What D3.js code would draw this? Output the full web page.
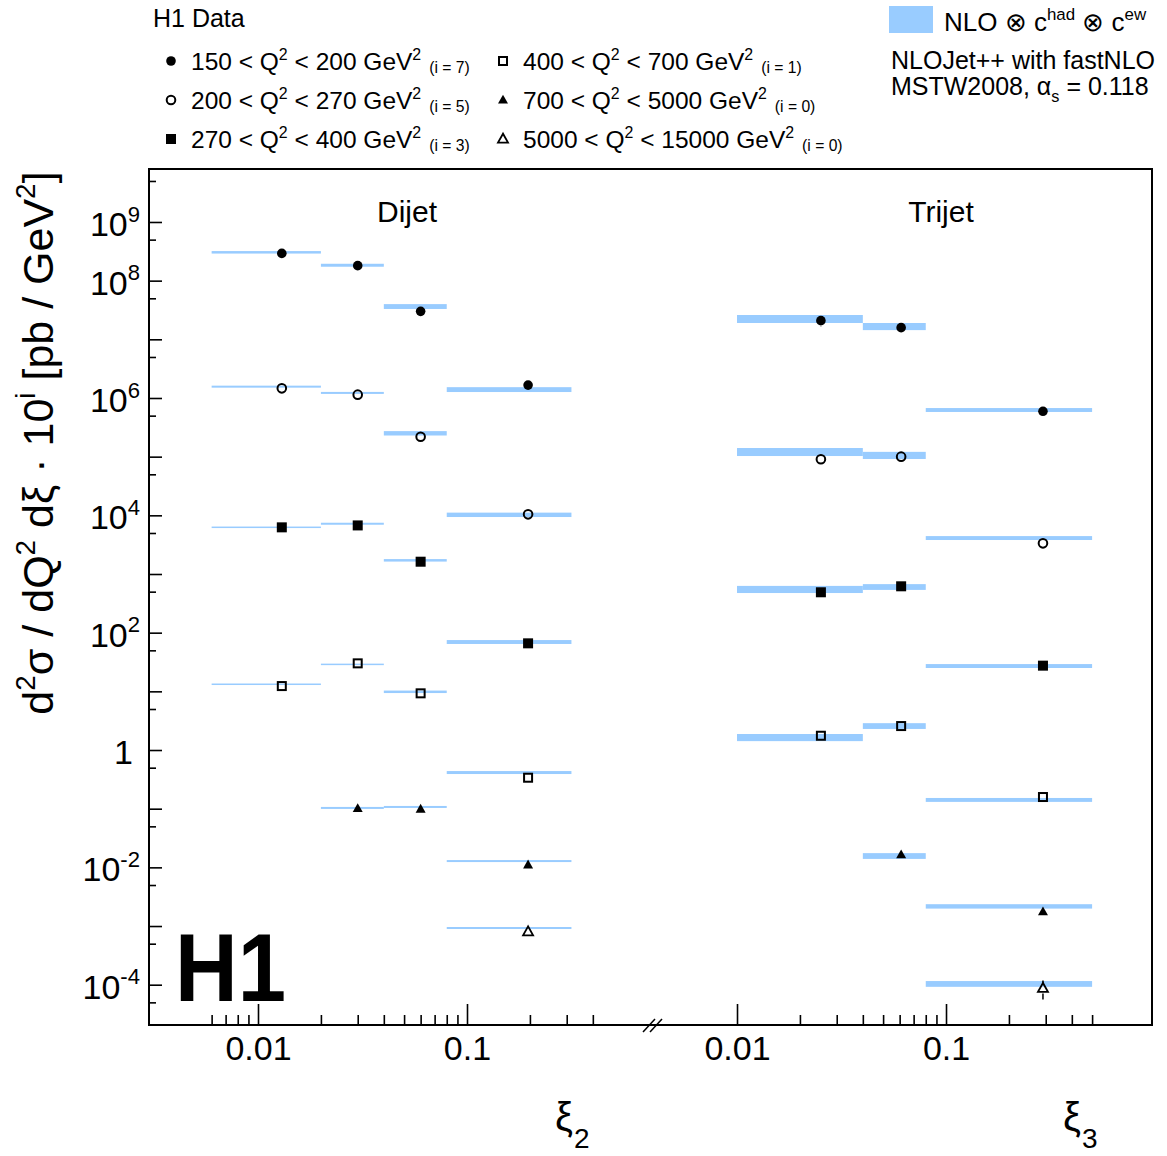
<!DOCTYPE html>
<html>
<head>
<meta charset="utf-8">
<script src="https://cdn.jsdelivr.net/npm/d3@7"></script>
<style>
  html, body { margin: 0; padding: 0; background: #fff; }
  svg { display: block; }
</style>
</head>
<body>
<div id="chart"></div>
<script>
// ---------------- data ----------------
const q2Labels = [
  ["150", "200"], ["200", "270"], ["270", "400"],
  ["400", "700"], ["700", "5000"], ["5000", "15000"]
];
const scaleExp = [7, 5, 3, 1, 0, 0];           // multiply by 10^i
const markerTypes = ["fc", "oc", "fs", "os", "ft", "ot"];

// Dijet: xi_2 bins
const diBinEdges = [0.006, 0.02, 0.04, 0.08, 0.316];
const diXi = [0.013, 0.030, 0.060, 0.196];
const diData = [
  [29.2, 18.0, 3.00, 0.166],
  [14.6, 11.4, 2.19, 0.104],
  [6.24, 6.73, 1.62, 0.0658],
  [1.23, 3.00, 0.925, 0.0337],
  [null, 0.101, 0.0986, 0.0110],
  [null, null, null, 8.0e-4]
];
const diDataErr = [   // relative, percent
  [6, 6, 8, 8],
  [6, 6, 8, 10],
  [6, 6, 8, 10],
  [8, 8, 10, 12],
  [null, 10, 10, 14],
  [null, null, null, 18]
];
const diTheory = [
  [30.4, 18.3, 3.62, 0.139],
  [15.6, 12.2, 2.50, 0.102],
  [6.25, 7.19, 1.71, 0.0693],
  [1.32, 2.88, 0.982, 0.0413],
  [null, 0.103, 0.107, 0.0128],
  [null, null, null, 9.25e-4]
];
const diTheoryUnc = [ // relative, percent
  [5, 6, 10, 10],
  [4, 4, 9, 9],
  [3, 4, 5, 8],
  [3, 3, 5, 6],
  [null, 4, 4, 4],
  [null, null, null, 4]
];

// Trijet: xi_3 bins
const triBinEdges = [0.01, 0.04, 0.08, 0.5];
const triXi = [0.0252, 0.061, 0.291];
const triData = [
  [2.08, 1.58, 0.0593],
  [0.902, 1.00, 0.0333],
  [0.488, 0.617, 0.0274],
  [0.175, 0.256, 0.0158],
  [null, 0.0164, 0.00175],
  [null, null, 8.7e-5]
];
const triDataErr = [
  [20, 10, 8],
  [12, 10, 10],
  [10, 10, 10],
  [12, 10, 12],
  [null, 12, 15],
  [null, null, 36]
];
const triTheory = [
  [2.22, 1.65, 0.0624],
  [1.20, 1.05, 0.0410],
  [0.545, 0.600, 0.0270],
  [0.163, 0.256, 0.0141],
  [null, 0.0156, 0.00216],
  [null, null, 1.03e-4]
];
const triTheoryUnc = [
  [17, 15, 8],
  [17, 15, 8],
  [15, 12, 8],
  [15, 12, 8],
  [null, 12, 9],
  [null, null, 12]
];

// axis ticks
const diMinorTicks = [0.006, 0.007, 0.008, 0.009, 0.02, 0.03, 0.04, 0.05, 0.06, 0.07, 0.08, 0.09, 0.2, 0.3, 0.4];
const diMajorTicks = [0.01, 0.1];
const triMinorTicks = [0.02, 0.03, 0.04, 0.05, 0.06, 0.07, 0.08, 0.09, 0.2, 0.3, 0.4, 0.5];
const triMajorTicks = [0.01, 0.1];
const xTickLabels = ["0.01", "0.1"];
const yMajorExp = d3.range(-4, 10);                  // 10^-4 ... 10^9
const yMinorTicks = d3.range(-5, 10).map(e => 5 * Math.pow(10, e));
const yLabelExp = [9, 8, 6, 4, 2, 0, -2, -4];

// ---------------- layout ----------------
const W = 1167, H = 1156;
const FONT = "'Liberation Sans', Arial, Helvetica, sans-serif";
const BAND = "#99ccff";
const frame = { left: 149, right: 1152, top: 169, bottom: 1025 };
const breakX = 656;

const svg = d3.select("#chart").append("svg")
  .attr("width", W).attr("height", H)
  .style("font-family", FONT);
svg.append("rect").attr("width", W).attr("height", H).attr("fill", "#fff");

const y = d3.scaleLog()
  .domain([Math.pow(10, -4.687), Math.pow(10, 9.903)])
  .range([frame.bottom, frame.top]);
const xDi = d3.scaleLog()
  .domain([Math.pow(10, -2.5215), Math.pow(10, -0.0957)])
  .range([frame.left, breakX]);
const xTri = d3.scaleLog()
  .domain([Math.pow(10, -2.3876), Math.pow(10, -0.0144)])
  .range([breakX, frame.right]);

// rich text helper
function rich(sel, parts, fs) {
  let shift = 0;
  parts.forEach(p => {
    const ts = sel.append("tspan").text(p.t);
    let target = 0, size = fs;
    if (p.sup) { target = -fs * 0.42; size = fs * 0.65; }
    else if (p.sub) { target = fs * 0.28; size = fs * 0.65; }
    else if (p.small) { target = fs * 0.12; size = fs * 0.64; }
    ts.attr("font-size", size);
    if (target !== shift) { ts.attr("dy", target - shift); shift = target; }
    if (p.dx) ts.attr("dx", p.dx);
  });
  return sel;
}

// markers
function drawMarker(g, type, cx, cy) {
  const sw = 2;
  if (type === "fc") g.append("circle").attr("cx", cx).attr("cy", cy).attr("r", 4.8).attr("fill", "#000");
  else if (type === "oc") g.append("circle").attr("cx", cx).attr("cy", cy).attr("r", 4.3)
    .attr("fill", "none").attr("stroke", "#000").attr("stroke-width", sw);
  else if (type === "fs") g.append("rect").attr("x", cx - 5).attr("y", cy - 5).attr("width", 10).attr("height", 10).attr("fill", "#000");
  else if (type === "os") g.append("rect").attr("x", cx - 4).attr("y", cy - 4).attr("width", 8).attr("height", 8)
    .attr("fill", "none").attr("stroke", "#000").attr("stroke-width", sw);
  else {
    const pts = [[cx, cy - 5.3], [cx - 5, cy + 3.6], [cx + 5, cy + 3.6]];
    const p = g.append("path").attr("d", "M" + pts.map(d => d.join(",")).join("L") + "Z");
    if (type === "ft") p.attr("fill", "#000");
    else p.attr("fill", "none").attr("stroke", "#000").attr("stroke-width", 1.8).attr("stroke-linejoin", "miter");
  }
}

// ---------------- plot content ----------------
const plot = svg.append("g");

function drawPanel(x, edges, xi, data, err, theory, unc) {
  const bands = plot.append("g");
  const pts = plot.append("g");
  theory.forEach((row, s) => {
    const f = Math.pow(10, scaleExp[s]);
    row.forEach((t, b) => {
      if (t == null) return;
      const u = 1 + unc[s][b] / 100;
      let y1 = y(t * f * u), y2 = y(t * f / u);
      let h = Math.max(y2 - y1, 1.4);
      const yc = (y1 + y2) / 2;
      bands.append("rect")
        .attr("x", x(edges[b])).attr("width", x(edges[b + 1]) - x(edges[b]))
        .attr("y", yc - h / 2).attr("height", h)
        .attr("fill", BAND);
    });
  });
  data.forEach((row, s) => {
    const f = Math.pow(10, scaleExp[s]);
    row.forEach((v, b) => {
      if (v == null) return;
      const cx = x(xi[b]), cy = y(v * f);
      const e = err[s][b] / 100;
      const yHi = y(v * f * (1 + e)), yLo = y(v * f * (1 - e));
      const hs = 5.3;
      if (yHi < cy - hs) pts.append("line").attr("x1", cx).attr("x2", cx).attr("y1", yHi).attr("y2", cy - hs)
        .attr("stroke", "#000").attr("stroke-width", 1.5);
      if (yLo > cy + hs) pts.append("line").attr("x1", cx).attr("x2", cx).attr("y1", cy + hs).attr("y2", yLo)
        .attr("stroke", "#000").attr("stroke-width", 1.5);
      drawMarker(pts, markerTypes[s], cx, cy);
    });
  });
}
drawPanel(xDi, diBinEdges, diXi, diData, diDataErr, diTheory, diTheoryUnc);
drawPanel(xTri, triBinEdges, triXi, triData, triDataErr, triTheory, triTheoryUnc);

// ---------------- axes ----------------
const axG = svg.append("g");
function xAxes(x, minors, majors) {
  axG.append("g").attr("transform", `translate(0,${frame.bottom})`)
    .call(d3.axisBottom(x).tickValues(minors).tickSizeInner(-10).tickSizeOuter(0).tickFormat(() => ""))
    .call(g => g.select(".domain").remove());
  axG.append("g").attr("transform", `translate(0,${frame.bottom})`)
    .call(d3.axisBottom(x).tickValues(majors).tickSizeInner(-21).tickSizeOuter(0).tickPadding(11)
      .tickFormat((d, i) => xTickLabels[i]))
    .call(g => g.select(".domain").remove())
    .call(g => g.selectAll("text").attr("font-size", 34).attr("font-family", FONT).attr("fill", "#000"));
}
xAxes(xDi, diMinorTicks, diMajorTicks);
xAxes(xTri, triMinorTicks, triMajorTicks);

axG.append("g").attr("transform", `translate(${frame.left},0)`)
  .call(d3.axisLeft(y).tickValues(yMinorTicks.filter(v => v >= y.domain()[0] && v <= y.domain()[1]))
    .tickSizeInner(-7).tickSizeOuter(0).tickFormat(() => ""))
  .call(g => g.select(".domain").remove());
axG.append("g").attr("transform", `translate(${frame.left},0)`)
  .call(d3.axisLeft(y).tickValues(yMajorExp.map(e => Math.pow(10, e)))
    .tickSizeInner(-13).tickSizeOuter(0).tickFormat(() => ""))
  .call(g => g.select(".domain").remove());
axG.selectAll(".tick line").attr("stroke", "#000").attr("stroke-width", 1.6);

// y tick labels
yLabelExp.forEach(e => {
  const t = svg.append("text").attr("text-anchor", "end").attr("fill", "#000")
    .attr("x", e === 0 ? 133 : 140).attr("y", y(Math.pow(10, e)) + 14).attr("font-size", 34);
  if (e === 0) rich(t, [{ t: "1" }], 34);
  else rich(t, [{ t: "10" }, { t: String(e), sup: true }], 34);
});

// frame
svg.append("rect")
  .attr("x", frame.left).attr("y", frame.top)
  .attr("width", frame.right - frame.left).attr("height", frame.bottom - frame.top)
  .attr("fill", "none").attr("stroke", "#000").attr("stroke-width", 2);

// axis break
[0, 7].forEach(dx => {
  svg.append("line")
    .attr("x1", 643 + dx).attr("y1", 1032).attr("x2", 655 + dx).attr("y2", 1019)
    .attr("stroke", "#000").attr("stroke-width", 1.5);
});

// y title
const yt = svg.append("text")
  .attr("transform", "translate(53,443) rotate(-90)")
  .attr("text-anchor", "middle").attr("font-size", 43).attr("fill", "#000");
rich(yt, [
  { t: "d" }, { t: "2", sup: true }, { t: "σ / dQ" }, { t: "2", sup: true },
  { t: " dξ   · 10" }, { t: "i", sup: true }, { t: " [pb / GeV" }, { t: "2", sup: true }, { t: "]" }
], 43);

// x titles
function xiTitle(xpos, sub) {
  const t = svg.append("text").attr("x", xpos).attr("y", 1131).attr("font-size", 40).attr("fill", "#000");
  rich(t, [{ t: "ξ" }, { t: sub, sub: true, dx: 1 }], 40);
  t.selectAll("tspan").filter((d, i) => i === 1).attr("font-size", 28).attr("dy", 17);
}
xiTitle(555, "2");
xiTitle(1063, "3");

// panel labels
svg.append("text").attr("x", 407).attr("y", 222).attr("text-anchor", "middle")
  .attr("font-size", 30).attr("fill", "#000").text("Dijet");
svg.append("text").attr("x", 941).attr("y", 222).attr("text-anchor", "middle")
  .attr("font-size", 30).attr("fill", "#000").text("Trijet");

// H1 logo
svg.append("text").attr("x", 175).attr("y", 1001)
  .attr("font-size", 96).attr("font-weight", "bold").attr("fill", "#000")
  .attr("textLength", 111).attr("lengthAdjust", "spacingAndGlyphs").text("H1");

// ---------------- legend ----------------
svg.append("text").attr("x", 153).attr("y", 27).attr("font-size", 25).attr("fill", "#000").text("H1 Data");
const legPos = [[171, 61], [171, 100], [171, 139], [503, 61], [503, 100], [503, 139]];
q2Labels.forEach((lab, i) => {
  const [mx, my] = legPos[i];
  drawMarker(svg, markerTypes[i], mx, my);
  const t = svg.append("text").attr("x", mx + 20).attr("y", my + 9).attr("font-size", 24.5).attr("fill", "#000");
  rich(t, [
    { t: lab[0] + " < Q" }, { t: "2", sup: true }, { t: " < " + lab[1] + " GeV" }, { t: "2", sup: true },
    { t: "(i = " + scaleExp[i] + ")", small: true, dx: 8 }
  ], 24.5);
});

svg.append("rect").attr("x", 889).attr("y", 6).attr("width", 44).attr("height", 27).attr("fill", BAND);
const nl = svg.append("text").attr("x", 944).attr("y", 31).attr("font-size", 26).attr("fill", "#000");
rich(nl, [{ t: "NLO ⊗ c" }, { t: "had", sup: true }, { t: " ⊗ c" }, { t: "ew", sup: true }], 26);
svg.append("text").attr("x", 891).attr("y", 69).attr("font-size", 25).attr("fill", "#000").text("NLOJet++ with fastNLO");
const ms = svg.append("text").attr("x", 891).attr("y", 95).attr("font-size", 25).attr("fill", "#000");
rich(ms, [{ t: "MSTW2008, α" }, { t: "s", sub: true }, { t: " = 0.118" }], 25);
</script>
</body>
</html>
